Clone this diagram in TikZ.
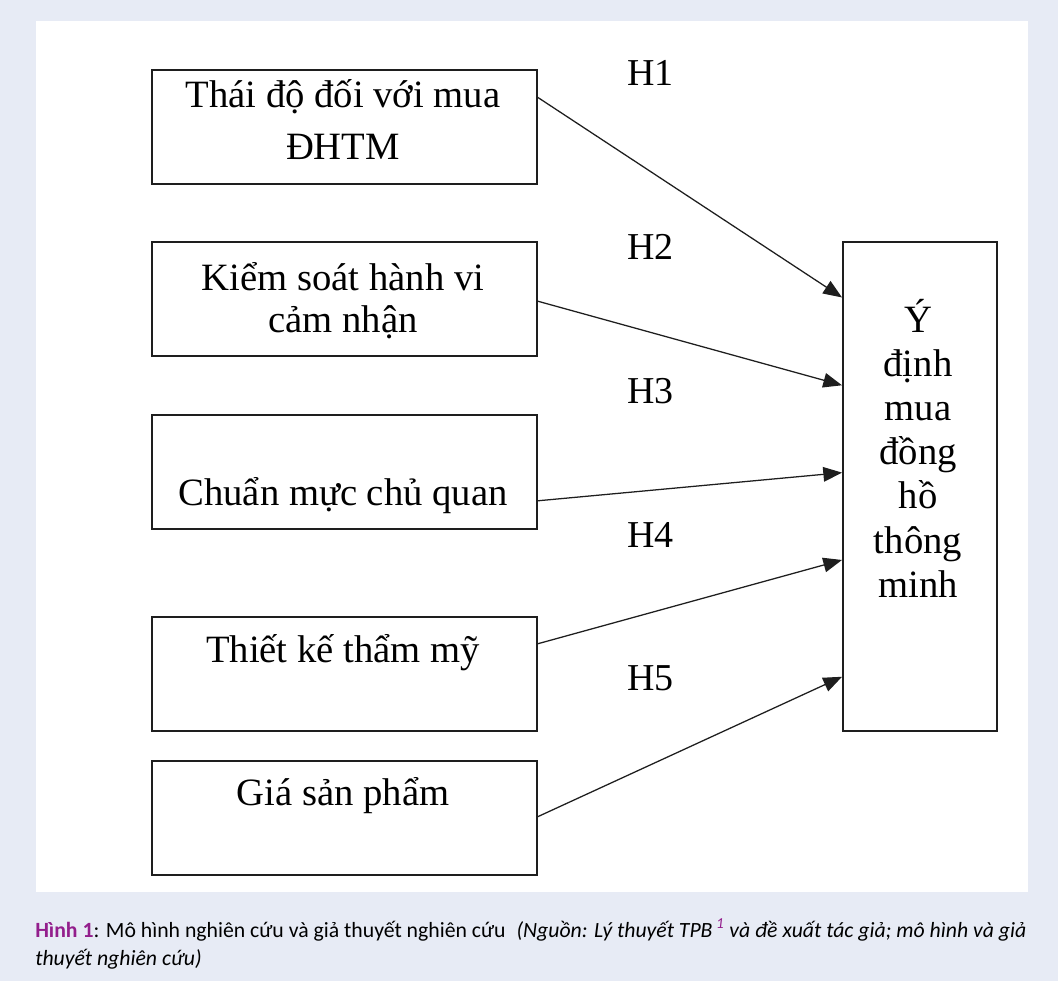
\documentclass[tikz,border=0pt]{standalone}
\usepackage{fontspec}
\setmainfont{Liberation Serif}
\newfontfamily\capfont{Carlito}
\usetikzlibrary{arrows.meta,calc}
\definecolor{hypBack}{HTML}{E7EBF5}
\definecolor{hypLine}{HTML}{1E1E1E}
\definecolor{hypPurple}{HTML}{931E8C}
\tikzset{
  hyp box/.style={draw=hypLine, line width=1.3pt, minimum width=288.75pt, minimum height=85.5pt, inner sep=0pt, anchor=north west},
  hyp text/.style={font=\fontsize{29}{33}\selectfont, inner sep=0pt, anchor=base},
  hyp label/.style={font=\fontsize{28.5}{33}\selectfont, inner sep=0pt, anchor=base west},
  hyp arrow/.style={draw=hypLine, line width=0.95pt, -{Triangle[length=14pt,width=11pt]}},
  hyp caption/.style={font=\capfont\fontsize{16.3}{20}\selectfont, inner sep=0pt, anchor=base west},
}

\begin{document}
\begin{tikzpicture}[x=0.75pt,y=-0.75pt]
  \fill[hypBack] (0,0) rectangle (1058,981);
  \fill[white] (36,21) rectangle (1028,892);
  \useasboundingbox (0,0) rectangle (1058,981);
  % factor boxes on the left
  \foreach \n/\y in {b1/69,b2/241,b3/414,b4/616,b5/760}{\node[hyp box] (\n) at (151,\y) {};}
  \node[hyp box, minimum width=115.5pt, minimum height=366.75pt] (ydm) at (842,241) {};
  \node[hyp text] (t1a) at (343,108) {Thái độ đối với mua};
  \node[hyp text] (t1b) at (343,160) {ĐHTM};
  \node[hyp text] (t2a) at (343,290) {Kiểm soát hành vi};
  \node[hyp text] (t2b) at (343,332) {cảm nhận};
  \node[hyp text] (t3) at (343,505) {Chuẩn mực chủ quan};
  \node[hyp text] (t4) at (343,662) {Thiết kế thẩm mỹ};
  \node[hyp text] (t5) at (343,805) {Giá sản phẩm};
  % intention box, one word per line
  \foreach \w [count=\i] in {Ý,định,mua,đồng,hồ,thông,minh}{\node[hyp text] (w\i) at (918,{332+44.2*(\i-1)}) {\w};}
  % hypotheses
  \foreach \h/\y in {1/86,2/259,3/403,4/547,5/690}{\node[hyp label] (h\h) at (627,\y) {H\h};}
  \foreach \n/\s/\e in {b1/0.245/0.115,b2/0.52/0.294,b3/0.75/0.472,b4/0.24/0.650,b5/0.49/0.888}{
    \draw[hyp arrow] ($(\n.north east)!\s!(\n.south east)$) -- ($(ydm.north west)!\e!(ydm.south west)$);}
  % caption
  \node[hyp caption] (cap1) at (35,937) {\textbf{\color{hypPurple}Hình 1}: Mô hình nghiên cứu và giả thuyết nghiên cứu\enspace\textit{(Nguồn: Lý thuyết TPB\,\textsuperscript{\color{hypPurple}1} và đề xuất tác giả; mô hình và giả}};
  \node[hyp caption] (cap2) at (35,965) {\textit{thuyết nghiên cứu)}};
\end{tikzpicture}
\end{document}
